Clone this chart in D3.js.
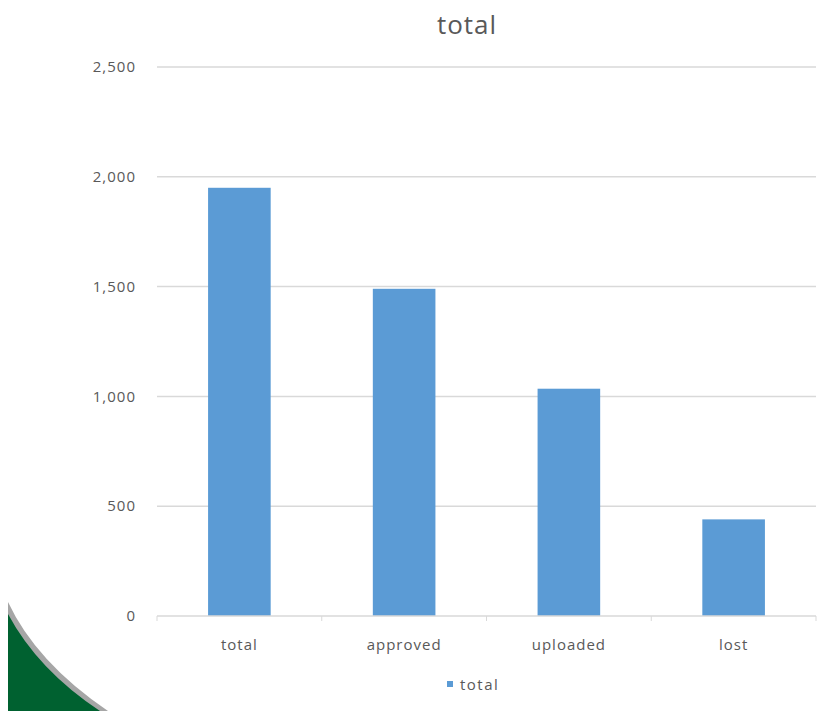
<!DOCTYPE html>
<html>
<head>
<meta charset="utf-8">
<script src="https://cdn.jsdelivr.net/npm/d3@7"></script>
<style>
  body { margin: 0; background: #fff; }
  svg { display: block; font-family: "Open Sans", "DejaVu Sans", sans-serif; }
</style>
</head>
<body>
<svg id="chart" width="817" height="711"></svg>
<script>
var categories = ['total', 'approved', 'uploaded', 'lost']
var values = [1950, 1490, 1035, 440]
var yTicks = [0, 500, 1000, 1500, 2000, 2500]
var seriesName = 'total'

var svg = d3.select('#chart')
var margin = { top: 67, right: 1, bottom: 95, left: 157 }
var width = 817 - margin.left - margin.right
var height = 711 - margin.top - margin.bottom

var x = d3.scaleBand().domain(categories).range([0, width]).paddingInner(0.62).paddingOuter(0.31)
var y = d3.scaleLinear().domain([0, 2500]).range([height, 0])

// decorative corner
svg.append('path')
  .attr('d', 'M8,602 Q36,662 108,711 L8,711 Z')
  .attr('fill', '#a6a6a6')
svg.append('path')
  .attr('d', 'M8,614 Q38,670 100,711 L8,711 Z')
  .attr('fill', '#006130')

svg.append('text')
  .attr('x', 467).attr('y', 34)
  .attr('text-anchor', 'middle')
  .attr('font-size', 26)
  .attr('letter-spacing', 1)
  .attr('fill', '#595959')
  .text('total')

var g = svg.append('g').attr('transform', 'translate(' + margin.left + ',' + margin.top + ')')

g.selectAll('.grid')
  .data(yTicks.filter(function(d) { return d > 0 }))
  .enter().append('line')
  .attr('x1', 0).attr('x2', width)
  .attr('y1', function(d) { return y(d) }).attr('y2', function(d) { return y(d) })
  .attr('stroke', '#d9d9d9').attr('stroke-width', 1.5)

g.selectAll('.ylab')
  .data(yTicks)
  .enter().append('text')
  .attr('x', -21).attr('y', function(d) { return y(d) })
  .attr('dy', '0.35em')
  .attr('text-anchor', 'end')
  .attr('font-size', 15)
  .attr('letter-spacing', 1)
  .attr('fill', '#595959')
  .text(d3.format(','))

g.selectAll('.bar')
  .data(values)
  .enter().append('rect')
  .attr('x', function(d, i) { return x(categories[i]) })
  .attr('width', x.bandwidth())
  .attr('y', function(d) { return y(d) })
  .attr('height', function(d) { return height - y(d) })
  .attr('fill', '#5b9bd5')

// category axis
g.append('line')
  .attr('x1', 0).attr('x2', width)
  .attr('y1', height).attr('y2', height)
  .attr('stroke', '#d9d9d9').attr('stroke-width', 1.5)

g.selectAll('.tick')
  .data(d3.range(categories.length + 1))
  .enter().append('line')
  .attr('x1', function(i) { return i * width / categories.length })
  .attr('x2', function(i) { return i * width / categories.length })
  .attr('y1', height).attr('y2', height + 5)
  .attr('stroke', '#d9d9d9')

g.selectAll('.xlab')
  .data(categories)
  .enter().append('text')
  .attr('x', function(d) { return x(d) + x.bandwidth() / 2 })
  .attr('y', height + 34)
  .attr('text-anchor', 'middle')
  .attr('font-size', 15)
  .attr('letter-spacing', 1)
  .attr('fill', '#595959')
  .text(function(d) { return d })

// legend
svg.append('rect')
  .attr('x', 447).attr('y', 681).attr('width', 6).attr('height', 6)
  .attr('fill', '#5b9bd5')
svg.append('text')
  .attr('x', 460).attr('y', 690)
  .attr('font-size', 15)
  .attr('letter-spacing', 1.5)
  .attr('fill', '#595959')
  .text(seriesName)
</script>
</body>
</html>
